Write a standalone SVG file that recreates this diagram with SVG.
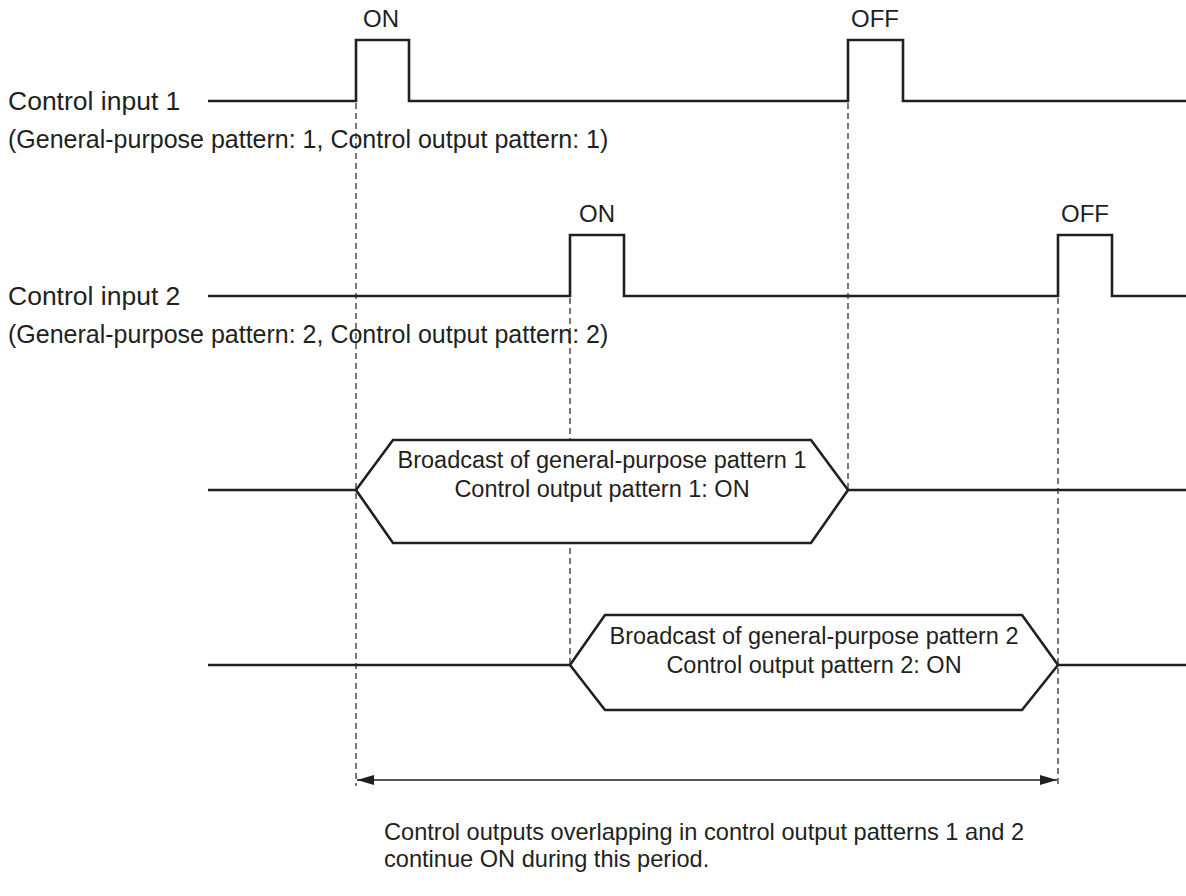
<svg xmlns="http://www.w3.org/2000/svg" width="1186" height="896" viewBox="0 0 1186 896">
<defs>
<style>
text{font-family:"Liberation Sans",Arial,sans-serif;font-size:24px;fill:#231f20}
.lbl{font-size:26.5px}
.sub{font-size:25px}
.hx{font-size:23.5px}
.note{font-size:23.6px}
.sig{fill:none;stroke:#231f20;stroke-width:2.6;stroke-linejoin:miter}
.dash{fill:none;stroke:#231f20;stroke-width:1.2;stroke-dasharray:6,4}
.arr{fill:none;stroke:#231f20;stroke-width:1.5}
.hex{fill:#fff;stroke:#231f20;stroke-width:2.6;stroke-linejoin:miter}
</style>
<marker id="ah" viewBox="0 0 17 10" refX="17" refY="5" markerWidth="17" markerHeight="10" markerUnits="userSpaceOnUse" orient="auto-start-reverse">
<path d="M0,0 L17,5 L0,10 Z" fill="#231f20"/>
</marker>
</defs>
<rect width="1186" height="896" fill="#fff"/>
<g id="connectors">
<line class="dash" x1="356" y1="103" x2="356" y2="786"/>
<line class="dash" x1="848" y1="103" x2="848" y2="490"/>
<line class="dash" x1="570" y1="298" x2="570" y2="665"/>
<line class="dash" x1="1058" y1="298" x2="1058" y2="786"/>
<line class="arr" x1="357" y1="780" x2="1057" y2="780" marker-start="url(#ah)" marker-end="url(#ah)"/>
</g>
<g id="input1">
<text class="lbl" x="8" y="110">Control input 1</text>
<text class="sub" x="8" y="148">(General-purpose pattern: 1, Control output pattern: 1)</text>
<polyline class="sig" points="208,101 356,101 356,40 409,40 409,101 848,101 848,40 903,40 903,101 1186,101"/>
<text x="381" y="27" text-anchor="middle">ON</text>
<text x="875" y="27" text-anchor="middle">OFF</text>
</g>
<g id="input2">
<text class="lbl" x="8" y="305">Control input 2</text>
<text class="sub" x="8" y="343">(General-purpose pattern: 2, Control output pattern: 2)</text>
<polyline class="sig" points="208,296 570,296 570,235 624,235 624,296 1058,296 1058,235 1112,235 1112,296 1186,296"/>
<text x="597" y="222" text-anchor="middle">ON</text>
<text x="1085" y="222" text-anchor="middle">OFF</text>
</g>
<g id="broadcast1">
<line class="sig" x1="208" y1="490" x2="356" y2="490"/>
<line class="sig" x1="848" y1="490" x2="1186" y2="490"/>
<polygon class="hex" points="356,490 393,440 811,440 848,490 811,543 393,543"/>
<text class="hx" x="602" y="468" text-anchor="middle">Broadcast of general-purpose pattern 1</text>
<text class="hx" x="602" y="497" text-anchor="middle">Control output pattern 1: ON</text>
</g>
<g id="broadcast2">
<line class="sig" x1="208" y1="665" x2="570" y2="665"/>
<line class="sig" x1="1058" y1="665" x2="1186" y2="665"/>
<polygon class="hex" points="570,665 605,615 1022,615 1058,665 1022,710 605,710"/>
<text class="hx" x="814" y="644" text-anchor="middle">Broadcast of general-purpose pattern 2</text>
<text class="hx" x="814" y="673" text-anchor="middle">Control output pattern 2: ON</text>
</g>
<g id="note">
<text class="note" x="384" y="840">Control outputs overlapping in control output patterns 1 and 2</text>
<text class="note" x="384" y="867">continue ON during this period.</text>
</g>
</svg>
